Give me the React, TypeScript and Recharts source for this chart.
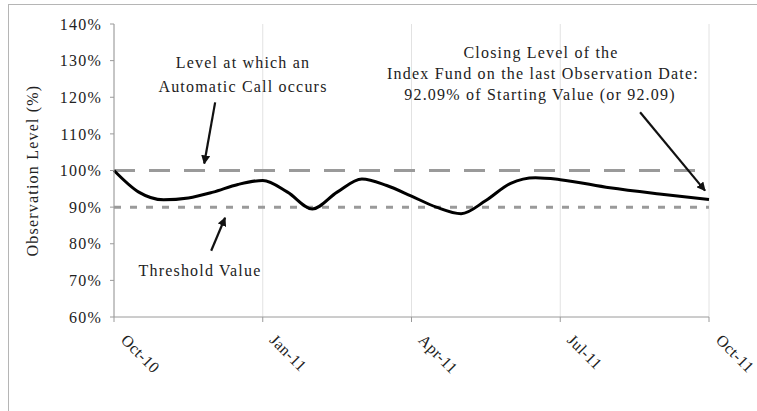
import React from 'react';
import {
    LineChart, Line, XAxis, YAxis, CartesianGrid, ReferenceLine, Label,
} from 'recharts';

// month index from Oct-10 (0) to Oct-11 (12), half-month steps
const months = [0, 0.5, 1, 1.5, 2, 2.5, 3, 3.5, 4, 4.5, 5, 5.5, 6, 6.5, 7, 7.5, 8, 8.5, 9, 10, 11, 12];
const levels = [100, 94.1, 92.0, 92.5, 94.1, 96.2, 97.3, 94.1, 89.5, 94.1, 97.7, 95.9, 93.0, 90.0, 88.2, 91.8, 96.5, 98.0, 97.5, 95.3, 93.6, 92.09];

const tickMonths = [0, 3, 6, 9, 12];
const tickLabels = ['Oct-10', 'Jan-11', 'Apr-11', 'Jul-11', 'Oct-11'];
const yTicks = [60, 70, 80, 90, 100, 110, 120, 130, 140];

const callLevel = 100;
const thresholdLevel = 90;

const data = months.map((m, i) => ({ m, level: levels[i] }));

const FONT = '"Liberation Serif", "Times New Roman", serif';
const GREY = '#9a9a9a';

const XTick = (props: any) => {
    const { x, y, payload } = props;
    const idx = tickMonths.indexOf(payload.value);
    const tx = x + 6;
    const ty = y + 17;
    return (
        <text x={tx} y={ty} transform={`rotate(45, ${tx}, ${ty})`} textAnchor="start"
            fontFamily={FONT} fontSize={16} fill="#222" letterSpacing={0.4}>
            {tickLabels[idx]}
        </text>
    );
};

const txt = { fontFamily: FONT, fontSize: 16, fill: '#222', textAnchor: 'middle' as const, letterSpacing: 1.2 };

export default function App() {
    return (
        <div style={{ position: 'absolute', left: 0, top: 0, width: 757, height: 411, background: '#fff' }}>
            <div style={{
                position: 'absolute', left: 8, top: 4, width: 749, height: 407,
                borderTop: '1.5px solid #b5b5b5', borderLeft: '1.5px solid #b5b5b5', boxSizing: 'border-box',
            }} />
            <LineChart width={757} height={411} data={data}
                margin={{ top: 24, right: 48, bottom: 0, left: 0 }}
                style={{ position: 'absolute', left: 0, top: 0 }}>
                <defs>
                    <marker id="arrow" viewBox="0 0 10 10" refX="9" refY="5" markerWidth="9" markerHeight="9"
                        markerUnits="userSpaceOnUse" orient="auto">
                        <path d="M0,0 L10,5 L0,10 z" fill="#111" />
                    </marker>
                </defs>
                <CartesianGrid horizontal={false} stroke="#e2e2e2" strokeWidth={1} />
                <XAxis dataKey="m" type="number" domain={[0, 12]} ticks={tickMonths}
                    tick={<XTick />} tickSize={5} stroke={GREY} interval={0} height={94} />
                <YAxis type="number" domain={[60, 140]} ticks={yTicks} width={114}
                    tickFormatter={(v: number) => `${v}%`} tickSize={4} tickMargin={8} stroke={GREY}
                    tick={{ fontFamily: FONT, fontSize: 16, fill: '#222', letterSpacing: 1.2 }}>
                    <Label value="Observation Level (%)" angle={-90} position="insideLeft" offset={32}
                        style={{ fontFamily: FONT, fontSize: 16, fill: '#222', textAnchor: 'middle', letterSpacing: 1.2 }} />
                </YAxis>
                <ReferenceLine y={callLevel} stroke={GREY} strokeWidth={3} strokeDasharray="21 14" />
                <ReferenceLine y={thresholdLevel} stroke={GREY} strokeWidth={3} strokeDasharray="7 9" />
                <Line dataKey="level" type="monotone" stroke="#000" strokeWidth={3} dot={false}
                    isAnimationActive={false} />
                <ReferenceLine segment={[{ x: 2.04, y: 118.6 }, { x: 1.82, y: 101.9 }]}
                    stroke="#111" strokeWidth={2.2} markerEnd="url(#arrow)" />
                <ReferenceLine segment={[{ x: 1.96, y: 78.1 }, { x: 2.24, y: 87.1 }]}
                    stroke="#111" strokeWidth={2.2} markerEnd="url(#arrow)" />
                <ReferenceLine segment={[{ x: 10.61, y: 115.9 }, { x: 11.92, y: 94.5 }]}
                    stroke="#111" strokeWidth={2.2} markerEnd="url(#arrow)" />
                <text x={243} y={68} style={txt}>Level at which an</text>
                <text x={243} y={92} style={txt}>Automatic Call occurs</text>
                <text x={200} y={276} style={txt}>Threshold Value</text>
                <text x={541} y={58} style={txt}>Closing Level of the</text>
                <text x={543} y={79} style={txt}>Index Fund on the last Observation Date:</text>
                <text x={540} y={100} style={txt}>92.09% of Starting Value (or 92.09)</text>
            </LineChart>
        </div>
    );
}
